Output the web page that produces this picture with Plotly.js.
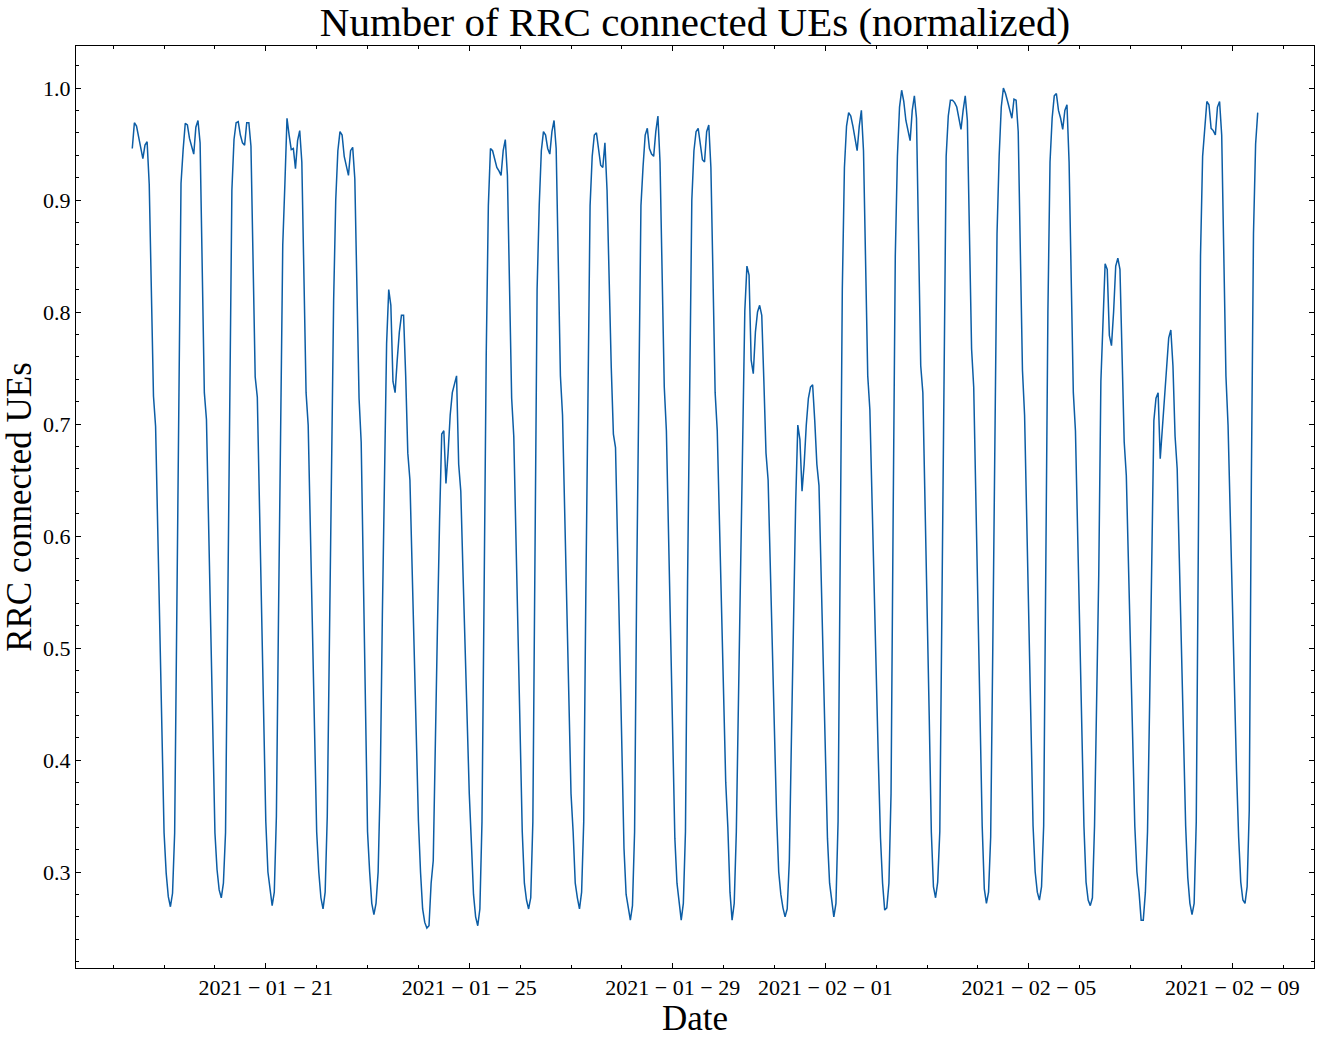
<!DOCTYPE html>
<html>
<head>
<meta charset="utf-8">
<script src="https://cdn.plot.ly/plotly-3.0.1.min.js"></script>
<style>
  html, body { margin: 0; padding: 0; background: #fff; }
  #chart { width: 1320px; height: 1038px; }
</style>
</head>
<body>
<div id="chart"></div>
<script>
// normalized number of RRC connected UEs, hourly, one array per day (00:00 .. 23:00)
const jan18 = [0.946, 0.969, 0.966, 0.956, 0.946, 0.937, 0.949, 0.952, 0.914, 0.82, 0.725, 0.698, 0.61, 0.52, 0.43]; // starts 09:00
const jan19 = [0.335, 0.299, 0.278, 0.269, 0.281, 0.335, 0.534, 0.71, 0.915, 0.945, 0.9685, 0.967, 0.955, 0.948, 0.941, 0.965, 0.971, 0.951, 0.84, 0.728, 0.704, 0.61, 0.52, 0.43];
const jan20 = [0.335, 0.302, 0.284, 0.277, 0.29, 0.335, 0.53, 0.72, 0.909, 0.954, 0.969, 0.970, 0.958, 0.951, 0.949, 0.969, 0.969, 0.948, 0.845, 0.742, 0.724, 0.63, 0.54, 0.44];
const jan21 = [0.345, 0.30, 0.287, 0.270, 0.282, 0.35, 0.53, 0.72, 0.86, 0.914, 0.973, 0.958, 0.945, 0.946, 0.928, 0.953, 0.962, 0.934, 0.83, 0.728, 0.699, 0.61, 0.52, 0.43];
const jan22 = [0.336, 0.30, 0.277, 0.267, 0.282, 0.35, 0.50, 0.65, 0.81, 0.90, 0.944, 0.961, 0.958, 0.939, 0.93, 0.922, 0.944, 0.947, 0.919, 0.82, 0.723, 0.684, 0.57, 0.45];
const jan23 = [0.336, 0.30, 0.272, 0.262, 0.272, 0.30, 0.38, 0.53, 0.67, 0.772, 0.82, 0.806, 0.738, 0.728, 0.757, 0.782, 0.797, 0.797, 0.743, 0.674, 0.65, 0.57, 0.49, 0.41];
const jan24 = [0.346, 0.30, 0.267, 0.255, 0.25, 0.252, 0.29, 0.31, 0.40, 0.52, 0.615, 0.691, 0.694, 0.647, 0.674, 0.708, 0.728, 0.736, 0.743, 0.664, 0.64, 0.57, 0.50, 0.43];
const jan25 = [0.37, 0.326, 0.28, 0.26, 0.252, 0.267, 0.345, 0.55, 0.762, 0.895, 0.946, 0.944, 0.936, 0.929, 0.926, 0.922, 0.944, 0.954, 0.922, 0.82, 0.723, 0.689, 0.60, 0.51];
const jan26 = [0.42, 0.336, 0.29, 0.275, 0.267, 0.277, 0.345, 0.58, 0.82, 0.895, 0.944, 0.961, 0.958, 0.946, 0.941, 0.961, 0.971, 0.946, 0.85, 0.743, 0.708, 0.62, 0.53, 0.44];
const jan27 = [0.37, 0.336, 0.29, 0.277, 0.267, 0.282, 0.345, 0.55, 0.75, 0.895, 0.939, 0.958, 0.96, 0.946, 0.931, 0.929, 0.951, 0.909, 0.82, 0.75, 0.691, 0.679, 0.59, 0.50];
const jan28 = [0.41, 0.321, 0.28, 0.267, 0.257, 0.27, 0.336, 0.56, 0.76, 0.895, 0.93, 0.958, 0.964, 0.946, 0.941, 0.939, 0.961, 0.975, 0.934, 0.83, 0.733, 0.694, 0.60, 0.51];
const jan29 = [0.42, 0.33, 0.29, 0.272, 0.257, 0.272, 0.336, 0.56, 0.76, 0.90, 0.944, 0.961, 0.964, 0.949, 0.936, 0.934, 0.961, 0.967, 0.929, 0.83, 0.728, 0.694, 0.61, 0.53];
const jan30 = [0.45, 0.38, 0.34, 0.282, 0.257, 0.272, 0.336, 0.45, 0.60, 0.71, 0.801, 0.841, 0.833, 0.757, 0.745, 0.782, 0.80, 0.806, 0.797, 0.738, 0.674, 0.65, 0.57, 0.49];
const jan31 = [0.41, 0.35, 0.30, 0.28, 0.268, 0.26, 0.267, 0.31, 0.42, 0.54, 0.63, 0.699, 0.686, 0.64, 0.664, 0.699, 0.723, 0.733, 0.735, 0.703, 0.664, 0.645, 0.56, 0.48];
const feb01 = [0.40, 0.33, 0.29, 0.272, 0.26, 0.272, 0.345, 0.58, 0.82, 0.929, 0.966, 0.978, 0.975, 0.966, 0.955, 0.944, 0.966, 0.98, 0.944, 0.84, 0.743, 0.713, 0.63, 0.55];
const feb02 = [0.47, 0.40, 0.331, 0.29, 0.266, 0.268, 0.29, 0.37, 0.62, 0.85, 0.939, 0.983, 0.998, 0.988, 0.971, 0.963, 0.953, 0.98, 0.993, 0.973, 0.86, 0.752, 0.728, 0.64];
const feb03 = [0.54, 0.44, 0.336, 0.287, 0.277, 0.291, 0.336, 0.55, 0.76, 0.939, 0.975, 0.989, 0.989, 0.987, 0.983, 0.973, 0.963, 0.98, 0.993, 0.971, 0.87, 0.767, 0.733, 0.64];
const feb04 = [0.54, 0.44, 0.341, 0.285, 0.272, 0.282, 0.331, 0.50, 0.70, 0.87, 0.939, 0.983, 1.0, 0.995, 0.988, 0.98, 0.973, 0.99, 0.989, 0.961, 0.85, 0.748, 0.708, 0.62];
const feb05 = [0.52, 0.43, 0.341, 0.30, 0.282, 0.275, 0.287, 0.341, 0.60, 0.80, 0.934, 0.973, 0.993, 0.995, 0.98, 0.973, 0.963, 0.98, 0.985, 0.934, 0.83, 0.728, 0.694, 0.60];
const feb06 = [0.51, 0.42, 0.341, 0.291, 0.275, 0.27, 0.277, 0.341, 0.45, 0.566, 0.738, 0.80, 0.843, 0.838, 0.779, 0.77, 0.80, 0.841, 0.848, 0.838, 0.772, 0.684, 0.654, 0.58];
const feb07 = [0.50, 0.42, 0.341, 0.30, 0.282, 0.257, 0.257, 0.282, 0.336, 0.45, 0.566, 0.703, 0.723, 0.728, 0.669, 0.694, 0.725, 0.752, 0.777, 0.784, 0.752, 0.689, 0.66, 0.58];
const feb08 = [0.50, 0.42, 0.341, 0.295, 0.272, 0.262, 0.272, 0.345, 0.62, 0.85, 0.939, 0.968, 0.988, 0.985, 0.964, 0.962, 0.958, 0.983, 0.988, 0.958, 0.85, 0.743, 0.699, 0.62];
const feb09 = [0.54, 0.46, 0.39, 0.331, 0.291, 0.275, 0.272, 0.287, 0.355, 0.65, 0.87, 0.95, 0.978]; // ends 12:00

// x tick labels
const tickDates = ["2021-01-21", "2021-01-25", "2021-01-29", "2021-02-01", "2021-02-05", "2021-02-09"];
const tickLabels = tickDates.map(d => d.split("-").join(" \u2212 "));

const days = [jan18, jan19, jan20, jan21, jan22, jan23, jan24, jan25, jan26, jan27, jan28,
  jan29, jan30, jan31, feb01, feb02, feb03, feb04, feb05, feb06, feb07, feb08, feb09];
const values = days.flat();
const start = Date.UTC(2021, 0, 18, 9);
const times = values.map((v, i) =>
  new Date(start + i * 3600000).toISOString().slice(0, 16).replace("T", " "));

const serif = "Liberation Serif, Times New Roman, serif";

const trace = {
  x: times,
  y: values,
  type: "scatter",
  mode: "lines",
  line: { color: "#0C5DA5", width: 1.5 },
  hoverinfo: "skip",
};

const layout = {
  width: 1320,
  height: 1038,
  margin: { l: 76, r: 6, t: 46, b: 70 },
  paper_bgcolor: "#ffffff",
  plot_bgcolor: "#ffffff",
  showlegend: false,
  font: { family: serif, color: "#000", size: 22 },
  title: {
    text: "Number of RRC connected UEs (normalized)",
    font: { family: serif, size: 41, color: "#000" },
    xref: "paper", x: 0.5, xanchor: "center",
    y: 0.979, yanchor: "middle",
  },
  xaxis: {
    type: "date",
    range: ["2021-01-17 06:27", "2021-02-10 14:33"],
    tickmode: "array",
    tickvals: tickDates,
    ticktext: tickLabels,
    ticks: "inside", ticklen: 5, tickwidth: 1, tickcolor: "#000",
    minor: { tickmode: "linear", tick0: "2021-01-17", dtick: 86400000,
             ticks: "inside", ticklen: 3, tickwidth: 1, tickcolor: "#000", showgrid: false },
    showline: true, linecolor: "#000", linewidth: 1, mirror: "ticks",
    showgrid: false, zeroline: false,
    tickfont: { family: serif, size: 22 },
    title: { text: "Date", font: { family: serif, size: 35 }, standoff: 0 },
  },
  yaxis: {
    range: [0.2143, 1.0375],
    tickmode: "linear", tick0: 0, dtick: 0.1, tickformat: ".1f",
    ticks: "inside", ticklen: 5, tickwidth: 1, tickcolor: "#000",
    minor: { tickmode: "linear", tick0: 0, dtick: 0.02,
             ticks: "inside", ticklen: 3, tickwidth: 1, tickcolor: "#000", showgrid: false },
    showline: true, linecolor: "#000", linewidth: 1, mirror: "ticks",
    showgrid: false, zeroline: false,
    tickfont: { family: serif, size: 22 },
    title: { text: "RRC connected UEs", font: { family: serif, size: 35 }, standoff: 4 },
  },
};

Plotly.newPlot("chart", [trace], layout, { displayModeBar: false, staticPlot: true });
</script>
</body>
</html>
